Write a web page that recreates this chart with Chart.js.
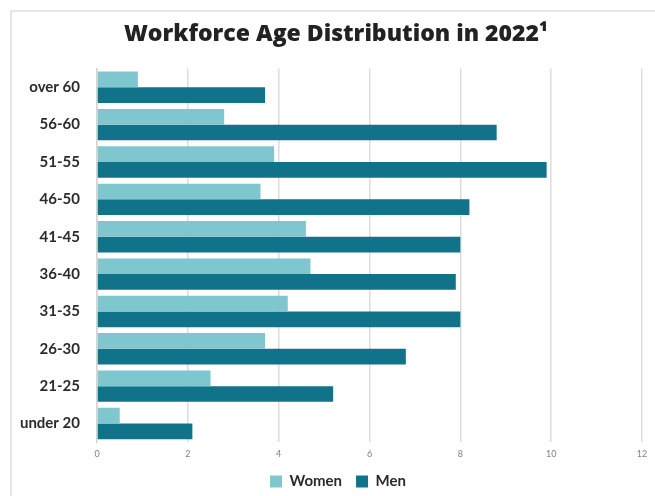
<!DOCTYPE html>
<html>
<head>
<meta charset="utf-8">
<script src="https://cdn.jsdelivr.net/npm/chart.js@4"></script>
<style>
  html, body { margin: 0; padding: 0; background: #fff; overflow: hidden; }
  #wrap { position: relative; width: 655px; height: 496px; overflow: hidden; }
  #frame {
    position: absolute; left: 10px; top: 10px; width: 700px; height: 520px;
    border-left: 2px solid #e6e6e6; border-top: 2px solid #e6e6e6;
  }
  #chart1 { position: absolute; left: 10px; top: 0; }
</style>
</head>
<body>
<div id="wrap">
  <div id="frame"></div>
  <canvas id="chart1" width="660" height="496"></canvas>
</div>
<script>
const ageGroups = ['over 60', '56-60', '51-55', '46-50', '41-45', '36-40', '31-35', '26-30', '21-25', 'under 20'];
const women = [0.9, 2.8, 3.9, 3.6, 4.6, 4.7, 4.2, 3.7, 2.5, 0.5];
const men = [3.7, 8.8, 9.9, 8.2, 8.0, 7.9, 8.0, 6.8, 5.2, 2.1];
const xTicks = [0, 2, 4, 6, 8, 10, 12];

// the card is wider than the visible area, so title and legend sit a bit right of the plot centre
const shiftHeader = {
  id: 'shiftHeader',
  afterLayout(chart) {
    chart.titleBlock.left += 10;
    chart.titleBlock.right += 10;
    chart.legend.left += 12;
    chart.legend.right += 12;
  }
};

function renderChart() {
  const ctx1 = document.getElementById('chart1');

  new Chart(ctx1, {
    type: 'bar',
    data: {
      labels: ageGroups,
      datasets: [{
        label: 'Women',
        data: women,
        backgroundColor: '#7fc7cf',
        borderWidth: 0
      }, {
        label: 'Men',
        data: men,
        backgroundColor: '#107389',
        borderWidth: 0
      }]
    },
    plugins: [shiftHeader],
    options: {
      indexAxis: 'y',
      responsive: false,
      animation: false,
      datasets: {
        bar: { categoryPercentage: 0.84, barPercentage: 1 }
      },
      layout: {
        padding: { top: 10, right: 28, bottom: -3, left: 0 }
      },
      plugins: {
        title: {
          display: true,
          text: 'Workforce Age Distribution in 2022\u00b9',
          color: '#222',
          font: { family: 'Open Sans', size: 23, weight: '800' },
          padding: { top: 11, bottom: 20 }
        },
        legend: {
          position: 'bottom',
          labels: {
            color: '#2b2b2b',
            font: { family: 'Lato', size: 15, weight: 'bold' },
            boxWidth: 12,
            boxHeight: 12,
            padding: 14
          }
        },
        tooltip: { enabled: false }
      },
      scales: {
        x: {
          min: 0,
          max: 12,
          afterBuildTicks: (scale) => {
            scale.ticks = xTicks.map(v => ({ value: v }));
          },
          afterFit: (scale) => { scale.height -= 5; },
          grid: { color: '#dcdcdc', lineWidth: 1.5, drawTicks: false },
          border: { display: false },
          ticks: {
            color: '#808080',
            font: { family: 'Lato', size: 9 },
            padding: 6
          }
        },
        y: {
          grid: { display: false },
          border: { display: true, color: '#d4d4d4', width: 1.5 },
          afterFit: (scale) => { scale.width = 87; },
          ticks: {
            color: '#2b2b2b',
            font: { family: 'Lato', size: 15, weight: 'bold' },
            padding: 9
          }
        }
      }
    }
  });
}
renderChart();
</script>
</body>
</html>
